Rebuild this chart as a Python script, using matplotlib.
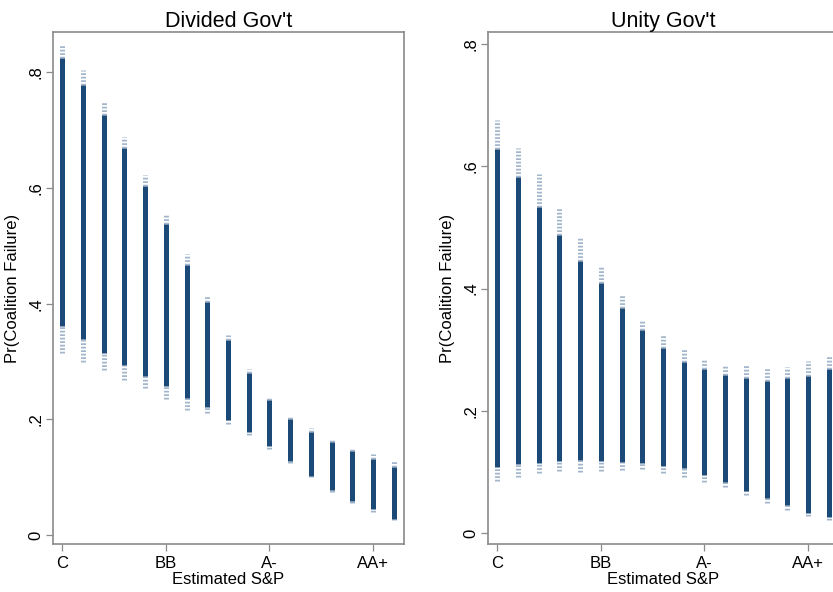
import numpy as np
import matplotlib
matplotlib.use("Agg")
import matplotlib.pyplot as plt

plt.rcParams['font.family'] = ['Liberation Sans', 'DejaVu Sans']

# rating positions along the S&P scale (C ... beyond AA+)
rating = np.arange(17)
tick_pos = [0, 5, 10, 15]
tick_lab = ['C', 'BB', 'A-', 'AA+']

# Divided government: inner (thick) and outer (dashed) interval ends
div_in_hi = [0.824, 0.777, 0.725, 0.668, 0.603, 0.537, 0.466, 0.402, 0.338,
             0.280, 0.233, 0.201, 0.178, 0.161, 0.145, 0.131, 0.118]
div_out_hi = [0.846, 0.803, 0.750, 0.687, 0.622, 0.553, 0.485, 0.414, 0.345,
              0.287, 0.238, 0.204, 0.185, 0.166, 0.150, 0.141, 0.128]
div_in_lo = [0.361, 0.339, 0.314, 0.294, 0.275, 0.257, 0.237, 0.222, 0.199,
             0.178, 0.154, 0.128, 0.102, 0.079, 0.059, 0.045, 0.029]
div_out_lo = [0.314, 0.299, 0.285, 0.268, 0.254, 0.235, 0.216, 0.212, 0.192,
              0.173, 0.149, 0.124, 0.100, 0.074, 0.055, 0.040, 0.026]

# Unity government
uni_in_hi = [0.628, 0.583, 0.534, 0.488, 0.445, 0.409, 0.368, 0.332, 0.303,
             0.280, 0.268, 0.259, 0.254, 0.249, 0.254, 0.257, 0.268]
uni_out_hi = [0.676, 0.630, 0.588, 0.534, 0.483, 0.437, 0.391, 0.349, 0.324,
              0.303, 0.285, 0.275, 0.275, 0.272, 0.272, 0.282, 0.291]
uni_in_lo = [0.108, 0.113, 0.115, 0.118, 0.119, 0.118, 0.116, 0.115, 0.110,
             0.106, 0.095, 0.083, 0.069, 0.057, 0.046, 0.033, 0.026]
uni_out_lo = [0.085, 0.092, 0.098, 0.101, 0.100, 0.101, 0.103, 0.105, 0.098,
              0.092, 0.083, 0.075, 0.062, 0.049, 0.038, 0.028, 0.021]

dark = '#1b4a78'
light = '#a3b6cc'
gray = '#8a8a8a'

fig = plt.figure(figsize=(8.33, 5.92), dpi=100)
W, H = 833, 592
ax1 = fig.add_axes([53 / W, (H - 544) / H, 351 / W, 512 / H])
ax2 = fig.add_axes([488 / W, (H - 544) / H, 351 / W, 512 / H])


def draw(ax, in_hi, out_hi, in_lo, out_lo, title, ylim):
    ax.vlines(rating, in_hi, out_hi, color=light, lw=3.6, linestyles=(0, (0.35, 0.35)))
    ax.vlines(rating, out_lo, in_lo, color=light, lw=3.6, linestyles=(0, (0.35, 0.35)))
    ax.vlines(rating, in_lo, in_hi, color=dark, lw=3.6)
    ax.set_xlim(-0.45, 16.5)
    ax.set_ylim(*ylim)
    ax.set_xticks(tick_pos)
    ax.set_xticklabels(tick_lab)
    ax.set_yticks([0, 0.2, 0.4, 0.6, 0.8])
    ax.set_yticklabels(['0', '.2', '.4', '.6', '.8'], rotation=90, va='center')
    ax.tick_params(direction='out', length=5, width=0.9, color=gray,
                   labelsize=12, pad=4)
    ax.tick_params(axis='y', pad=2)
    for s in ax.spines.values():
        s.set_color(gray)
        s.set_linewidth(1.2)
    ax.set_title(title, fontsize=15.5, pad=3)
    ax.set_xlabel('Estimated S&P', fontsize=12, labelpad=0)
    ax.set_ylabel('Pr(Coalition Failure)', fontsize=12, labelpad=6)


draw(ax1, div_in_hi, div_out_hi, div_in_lo, div_out_lo, "Divided Gov't", (-0.015, 0.869))
draw(ax2, uni_in_hi, uni_out_hi, uni_in_lo, uni_out_lo, "Unity Gov't", (-0.018, 0.820))

fig.savefig('out.png', dpi=100)
